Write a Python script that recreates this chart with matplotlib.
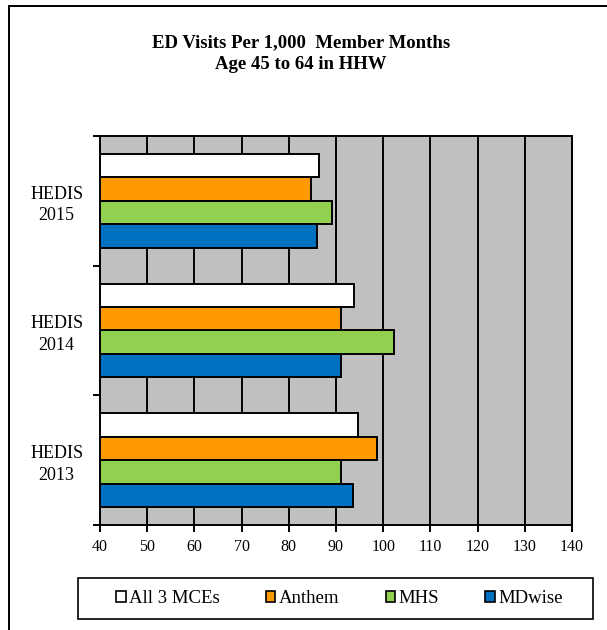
import numpy as np
import matplotlib.pyplot as plt
from matplotlib.patches import Patch, Rectangle

plt.rcParams['font.family'] = ['Liberation Serif', 'DejaVu Serif']

years = ['HEDIS\n2015', 'HEDIS\n2014', 'HEDIS\n2013']
series = ['All 3 MCEs', 'Anthem', 'MHS', 'MDwise']
all3 = [86.3, 93.9, 94.7]
anthem = [84.7, 91.1, 98.7]
mhs = [89.1, 102.3, 91.1]
mdwise = [86.0, 91.1, 93.6]
xticks = [40, 50, 60, 70, 80, 90, 100, 110, 120, 130, 140]

colors = ['white', '#FF9900', '#92D050', '#0070C0']
values = [all3, anthem, mhs, mdwise]

fig = plt.figure(figsize=(6.07, 6.30), dpi=100)
ax = fig.add_axes([0.1647, 0.1667, 0.7776, 0.6175])
ax.set_facecolor('#C0C0C0')

# outer frame (only top and left visible in the original)
fig.patches.append(Rectangle((9 / 607, -0.1), 1.2, (630 - 6) / 630 + 0.1,
                             transform=fig.transFigure, fill=False,
                             edgecolor='black', linewidth=1.4))
# legend frame
fig.patches.append(Rectangle((78 / 607, (630 - 619) / 630), (593 - 78) / 607, 41 / 630,
                             transform=fig.transFigure, fill=False,
                             edgecolor='black', linewidth=1.2))

pos = np.arange(len(years))
h = 0.181
for i, (vals, c) in enumerate(zip(values, colors)):
    ax.barh(pos + (i - 1.5) * h, [v - 40 for v in vals], left=40, height=h,
            color=c, edgecolor='black', linewidth=1.4, zorder=3)

ax.set_xlim(40, 140)
ax.set_ylim(2.5, -0.5)
ax.set_xticks(xticks)
ax.set_xticklabels([str(t) for t in xticks], fontsize=11.5)
ax.set_yticks(pos)
ax.set_yticklabels(years, fontsize=13, linespacing=1.35, multialignment='center')
ax.set_yticks([-0.5, 0.5, 1.5, 2.5], minor=True)
ax.tick_params(axis='y', which='major', length=0, pad=12)
ax.tick_params(axis='y', which='minor', length=5, width=1.4, direction='out')
ax.tick_params(axis='x', length=5, width=1.4, direction='out', pad=5)
ax.xaxis.grid(True, color='black', linewidth=1.4, zorder=1)
ax.set_axisbelow(True)
for s in ax.spines.values():
    s.set_linewidth(1.4)
    s.set_color('black')

fig.text(0.496, 1 - 34 / 630, 'ED Visits Per 1,000  Member Months\nAge 45 to 64 in HHW',
         ha='center', va='top', fontsize=13.5, fontweight='bold', linespacing=1.35)

handles = [Patch(facecolor=c, edgecolor='black', linewidth=1.2) for c in colors]
leg = fig.legend(handles, series, loc='center',
                 bbox_to_anchor=(((78 + 593) / 2 + 4) / 607, 1 - 598.5 / 630),
                 ncol=4, fontsize=13.5, frameon=False,
                 handlelength=0.5, handleheight=0.5,
                 handletextpad=0.2, columnspacing=2.45, borderpad=0)

fig.savefig('out.png', dpi=100)
